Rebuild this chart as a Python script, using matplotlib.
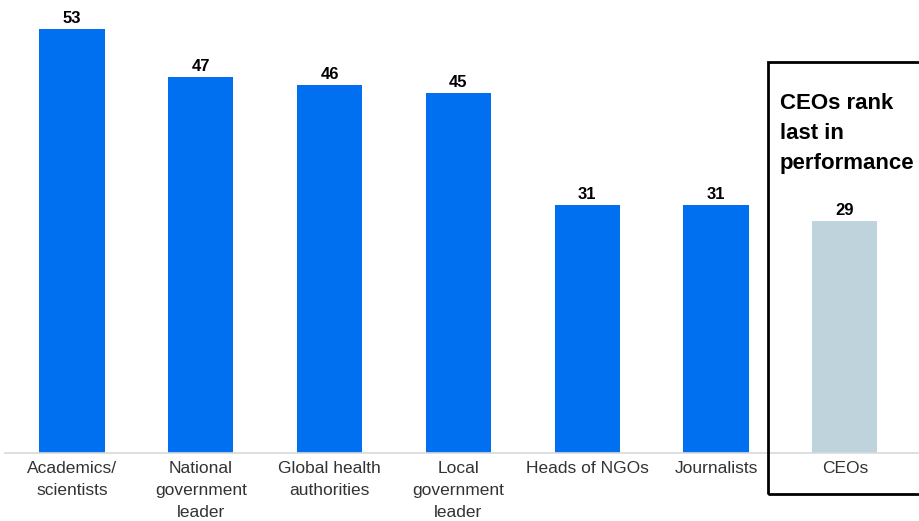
import matplotlib.pyplot as plt
from matplotlib.patches import Rectangle

plt.rcParams['font.family'] = ['Liberation Sans', 'DejaVu Sans']

categories = ['Academics/\nscientists', 'National\ngovernment\nleader', 'Global health\nauthorities',
              'Local\ngovernment\nleader', 'Heads of NGOs', 'Journalists', 'CEOs']
values = [53, 47, 46, 45, 31, 31, 29]
colors = ['#0070f0'] * 6 + ['#bfd3dc']

fig = plt.figure(figsize=(9.19, 5.21), dpi=100)
ax = fig.add_axes([5 / 919, 68 / 521, 914 / 919, 453 / 521])

x = range(len(values))
bars = ax.bar(x, values, width=0.505, color=colors)
for i, v in enumerate(values):
    ax.text(i, v + 0.3, str(v), ha='center', va='bottom', fontsize=12, fontweight='bold')

ax.set_xlim(-0.52, 6.576)
ax.set_ylim(0, 56.6)
ax.set_xticks(list(x))
ax.set_xticklabels(categories, fontsize=12.5, color='#333333', linespacing=1.55)
ax.tick_params(axis='x', length=0, pad=6)
ax.set_yticks([])
for s in ['top', 'right', 'left']:
    ax.spines[s].set_visible(False)
ax.spines['bottom'].set_color('#d9d9d9')
ax.spines['bottom'].set_linewidth(1.2)

# callout box round CEOs
fig.patches.append(Rectangle((768 / 919, 27 / 521), 0.2, 432 / 521, transform=fig.transFigure,
                             fill=False, edgecolor='black', linewidth=2))
fig.text(780 / 919, 428 / 521, 'CEOs rank\nlast in\nperformance', fontsize=16, fontweight='bold',
         va='top', ha='left', linespacing=1.55)

fig.savefig('out.png', dpi=100)
